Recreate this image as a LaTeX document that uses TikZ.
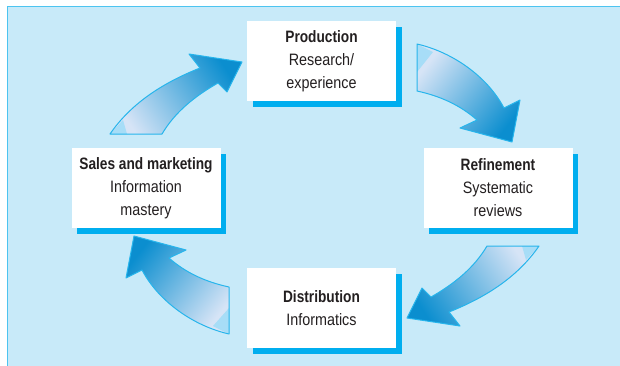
\documentclass[tikz,border=0pt]{standalone}
\usepackage{fontspec}
\setmainfont{Liberation Sans}[FakeStretch=0.87,BoldFeatures={FakeStretch=0.83}]
\usepackage{xcolor}
\definecolor{Col1}{RGB}{200,234,249}
\definecolor{Col2}{RGB}{77,196,240}
\definecolor{Col3}{RGB}{0,174,239}
\definecolor{Col4}{RGB}{39,181,236}
\definecolor{Col5}{RGB}{11,142,207}
\definecolor{Col6}{RGB}{214,228,246}
\definecolor{Col7}{RGB}{167,221,247}
\definecolor{Ink}{RGB}{35,31,32}
\usetikzlibrary{shadows}
\tikzstyle{Panel}=[fill=Col1]
\tikzstyle{Frame}=[draw=Col2,line width=1.5pt]
\tikzstyle{Box}=[rectangle,fill=white,minimum width=149pt,minimum height=80pt,
inner sep=0pt,align=center,text=Ink,font=\fontsize{16.5}{23}\selectfont,
drop shadow={shadow xshift=5.5pt,shadow yshift=-5.5pt,fill=Col3,opacity=1}]
\tikzstyle{CycleArrow}=[top color=Col5,bottom color=Col6]
\tikzstyle{Gleam}=[fill=Col7]
\tikzstyle{Rim}=[draw=Col4,line width=1pt,line join=round]
% the four curved arrows, one outline each
\newcommand{\ArcUL}{(110,134) .. controls (130,105) and (160,84) .. (200,68)
  -- (189,54) -- (242,62) -- (227,92) -- (218,83)
  .. controls (195,96) and (175,112) .. (162,134) -- cycle}
\newcommand{\ArcUR}{(417,44) .. controls (452,52) and (487,76) .. (504,108)
  -- (520,100) -- (512,142) -- (460,128) -- (477,120)
  .. controls (460,105) and (440,96) .. (417,91) -- cycle}
\newcommand{\ArcLR}{(539,246) .. controls (519,275) and (489,296) .. (449,312)
  -- (460,326) -- (407,318) -- (422,288) -- (431,297)
  .. controls (454,284) and (474,268) .. (487,246) -- cycle}
\newcommand{\ArcLL}{(229,334) .. controls (194,326) and (159,302) .. (142,270)
  -- (126,278) -- (134,236) -- (186,250) -- (169,258)
  .. controls (186,273) and (206,282) .. (229,287) -- cycle}

\begin{document}
\begin{tikzpicture}[x=1pt,y=-1pt]
        \useasboundingbox(0,0)rectangle(620,365);
        \fill[Panel](7.5,6.5)rectangle(621,366);
        \draw[Frame](7.5,366)--(7.5,6.5)--(621,6.5);
        % arrows: gradient, light corner, outline
        \shade[CycleArrow,shading angle=-56]\ArcUL;
        \fill[Gleam](110,134)--(123,120)--(127,134)--cycle;
        \draw[Rim]\ArcUL;
        \shade[CycleArrow,shading angle=-128]\ArcUR;
        \fill[Gleam](417,44)--(433,52)--(417,72)--cycle;
        \draw[Rim]\ArcUR;
        \shade[CycleArrow,shading angle=124]\ArcLR;
        \fill[Gleam](539,246)--(526,260)--(522,246)--cycle;
        \draw[Rim]\ArcLR;
        \shade[CycleArrow,shading angle=52]\ArcLL;
        \fill[Gleam](229,334)--(213,326)--(229,308)--cycle;
        \draw[Rim]\ArcLL;
        % stages
        \node[Box](prod)at(321.5,61)
            {\textbf{Production}\\Research/\\experience};
        \node[Box](refine)at(498,188)
            {\textbf{Refinement}\\Systematic\\reviews};
        \node[Box](distrib)at(321.5,308)
            {\textbf{Distribution}\\Informatics};
        \node[Box](sales)at(146,188)
            {\textbf{Sales and marketing}\\Information\\mastery};
    \end{tikzpicture}
\end{document}
